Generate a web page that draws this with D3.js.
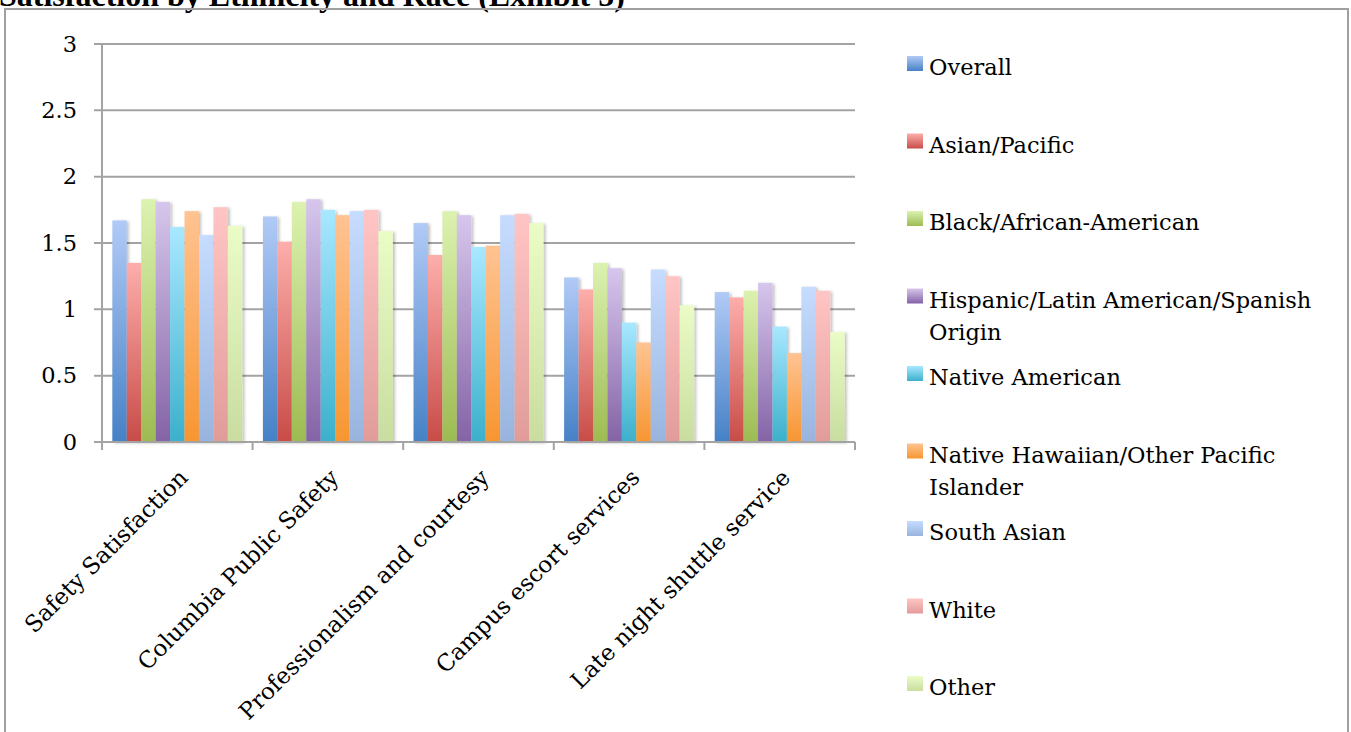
<!DOCTYPE html>
<html>
<head>
<meta charset="utf-8">
<script src="https://cdn.jsdelivr.net/npm/d3@7"></script>
<style>
  html, body { margin: 0; padding: 0; background: #fff; overflow: hidden; }
  svg { display: block; }
</style>
</head>
<body>
<div id="app"></div>
<script>
const categories = ['Safety Satisfaction', 'Columbia Public Safety', 'Professionalism and courtesy', 'Campus escort services', 'Late night shuttle service']
const seriesNames = ['Overall', 'Asian/Pacific', 'Black/African-American', 'Hispanic/Latin American/Spanish Origin',
    'Native American', 'Native Hawaiian/Other Pacific Islander', 'South Asian', 'White', 'Other']

// one array per series, values in category order
const overall   = [1.67, 1.70, 1.65, 1.24, 1.13]
const asian     = [1.35, 1.51, 1.41, 1.15, 1.09]
const black     = [1.83, 1.81, 1.74, 1.35, 1.14]
const hispanic  = [1.81, 1.83, 1.71, 1.31, 1.20]
const nativeAm  = [1.62, 1.75, 1.47, 0.90, 0.87]
const hawaiian  = [1.74, 1.71, 1.48, 0.75, 0.67]
const southAs   = [1.56, 1.74, 1.71, 1.30, 1.17]
const white     = [1.77, 1.75, 1.72, 1.25, 1.14]
const other     = [1.63, 1.59, 1.65, 1.03, 0.83]
const seriesValues = [overall, asian, black, hispanic, nativeAm, hawaiian, southAs, white, other]

const yTicks = [0, 0.5, 1, 1.5, 2, 2.5, 3]

// gradient top / bottom colours, Excel 2007 style
const topColors    = ['#b1caf6', '#fdaeab', '#dcf2b0', '#d6c6ec', '#a8e8ff', '#ffc392', '#c6dcff', '#ffc5c4', '#ebfcc6']
const bottomColors = ['#4681c6', '#c84c47', '#9dbb52', '#8463a6', '#3cb0cb', '#f79631', '#98b4de', '#e19c99', '#c8dd9f']

const width = 1351, height = 732
const svg = d3.select('#app').append('svg')
    .attr('width', width)
    .attr('height', height)
    .style('font-family', '"DejaVu Serif", serif')

const defs = svg.append('defs')
seriesNames.forEach((s, i) => {
    const g = defs.append('linearGradient')
        .attr('id', 'grad' + i)
        .attr('x1', 0).attr('y1', 0).attr('x2', 0).attr('y2', 1)
    g.append('stop').attr('offset', '0%').attr('stop-color', topColors[i])
    g.append('stop').attr('offset', '100%').attr('stop-color', bottomColors[i])
})
const shadow = defs.append('filter').attr('id', 'shadow')
    .attr('x', '-20%').attr('y', '-5%').attr('width', '150%').attr('height', '110%')
shadow.append('feDropShadow')
    .attr('dx', 2).attr('dy', 1).attr('stdDeviation', 1.5)
    .attr('flood-color', '#000').attr('flood-opacity', 0.25)

// title (its top is cut off by the page edge, as in the source)
svg.append('text')
    .attr('x', -1)
    .attr('y', 6)
    .style('font-family', '"Liberation Serif", serif')
    .style('font-weight', 'bold')
    .style('font-size', '32px')
    .text('Satisfaction by Ethnicity and Race (Exhibit 5)')

// chart frame
svg.append('rect')
    .attr('x', 5).attr('y', 9)
    .attr('width', 1343).attr('height', 740)
    .attr('fill', 'none')
    .attr('stroke', '#a0a0a0')
    .attr('stroke-width', 2)

const plotLeft = 102, plotRight = 855, plotTop = 44, plotBottom = 442

const x0 = d3.scaleBand()
    .domain(categories)
    .range([plotLeft, plotRight])
    .paddingInner(0.137)
    .paddingOuter(0.0685)

const x1 = d3.scaleBand()
    .domain(d3.range(seriesNames.length))
    .range([0, x0.bandwidth()])

const y = d3.scaleLinear()
    .domain([0, 3])
    .range([plotBottom, plotTop])

// gridlines
svg.append('g')
    .selectAll('line')
    .data(yTicks)
    .enter()
    .append('line')
        .attr('x1', plotLeft - 8)
        .attr('x2', plotRight)
        .attr('y1', d => y(d))
        .attr('y2', d => y(d))
        .attr('stroke', '#a3a3a3')
        .attr('stroke-width', 2)

// y axis
const yAxis = d3.axisLeft(y)
    .tickValues(yTicks)
    .tickSize(0)
    .tickPadding(25)
    .tickFormat(d3.format('~g'))

svg.append('g')
    .attr('transform', 'translate(' + plotLeft + ',0)')
    .call(yAxis)
    .call(g => g.select('.domain').remove())
    .selectAll('text')
        .style('font-family', '"DejaVu Serif", serif')
        .style('font-size', '22.5px')
        .attr('fill', '#000')

svg.append('line')
    .attr('x1', plotLeft).attr('x2', plotLeft)
    .attr('y1', plotTop).attr('y2', plotBottom + 8)
    .attr('stroke', '#a3a3a3').attr('stroke-width', 2)

// bars
const groups = svg.append('g')
    .selectAll('g')
    .data(categories)
    .enter()
    .append('g')
        .attr('transform', d => 'translate(' + x0(d) + ',0)')

groups.selectAll('rect')
    .data((d, ci) => seriesValues.map((vals, si) => ({ si: si, v: vals[ci] })))
    .enter()
    .append('rect')
        .attr('x', d => x1(d.si))
        .attr('y', d => y(d.v))
        .attr('width', x1.bandwidth())
        .attr('height', d => y(0) - y(d.v))
        .attr('fill', d => 'url(#grad' + d.si + ')')
        .attr('filter', 'url(#shadow)')

// x axis line + ticks at category boundaries
svg.append('line')
    .attr('x1', plotLeft).attr('x2', plotRight)
    .attr('y1', plotBottom).attr('y2', plotBottom)
    .attr('stroke', '#a3a3a3').attr('stroke-width', 2)

svg.append('g')
    .selectAll('line')
    .data(d3.range(categories.length + 1))
    .enter()
    .append('line')
        .attr('x1', d => plotLeft + d * x0.step())
        .attr('x2', d => plotLeft + d * x0.step())
        .attr('y1', plotBottom)
        .attr('y2', plotBottom + 8)
        .attr('stroke', '#a3a3a3').attr('stroke-width', 2)

svg.append('g')
    .selectAll('text')
    .data(categories)
    .enter()
    .append('text')
        .attr('text-anchor', 'end')
        .attr('transform', d => 'translate(' + (x0(d) + x0.bandwidth() / 2 + 12) + ',' + (plotBottom + 37) + ') rotate(-45)')
        .style('font-size', '23px')
        .text(d => d)

// legend
const legend = svg.append('g')
    .selectAll('g')
    .data(seriesNames)
    .enter()
    .append('g')
        .attr('transform', (d, i) => 'translate(907,' + (75 + i * 77.5) + ')')

legend.append('rect')
    .attr('x', 0).attr('y', -19)
    .attr('width', 16).attr('height', 15)
    .attr('fill', (d, i) => 'url(#grad' + i + ')')

legend.append('text')
    .attr('x', 22)
    .style('font-size', '22.5px')
    .each(function (d) {
        const t = d3.select(this)
        const words = d.split(' ')
        let line = []
        let tspan = t.append('tspan').attr('x', 22).attr('dy', 0)
        words.forEach(w => {
            line.push(w)
            tspan.text(line.join(' '))
            if (tspan.node().getComputedTextLength() > 405 && line.length > 1) {
                line.pop()
                tspan.text(line.join(' '))
                line = [w]
                tspan = t.append('tspan').attr('x', 22).attr('dy', 32).text(w)
            }
        })
    })
</script>
</body>
</html>
